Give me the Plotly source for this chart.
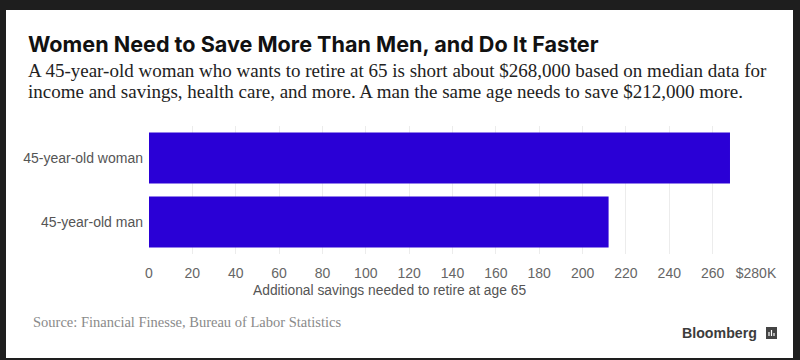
import plotly.graph_objects as go

categories = ["45-year-old man", "45-year-old woman"]
savings_k = [212, 268]
tick_vals = [0, 20, 40, 60, 80, 100, 120, 140, 160, 180, 200, 220, 240, 260, 280]
tick_text = ["0", "20", "40", "60", "80", "100", "120", "140", "160", "180", "200", "220", "240", "260", "$280K"]

title = "Women Need to Save More Than Men, and Do It Faster"
sub1 = "A 45-year-old woman who wants to retire at 65 is short about $268,000 based on median data for"
sub2 = "income and savings, health care, and more. A man the same age needs to save $212,000 more."
xtitle = "Additional savings needed to retire at age 65"
source = "Source: Financial Finesse, Bureau of Labor Statistics"

W, H = 800, 360
L, R, T, B = 149, 756, 126, 254


def px(x):
    return (x - L) / (R - L)


def py(y):
    return (B - y) / (B - T)


fig = go.Figure(go.Bar(
    y=categories, x=savings_k, orientation="h",
    marker=dict(color="#2a00d6", line=dict(width=0)),
    hoverinfo="skip",
))

shapes = [
    dict(type="rect", xref="paper", yref="paper", x0=px(6), x1=px(793), y0=py(358), y1=py(10),
         fillcolor="white", line=dict(width=0), layer="below"),
    dict(type="rect", xref="paper", yref="paper", x0=px(766), x1=px(777), y0=py(339), y1=py(327),
         fillcolor="#444444", line=dict(width=0), layer="above"),
]
for bx, top in [(769, 332), (771.5, 330), (774, 333)]:
    shapes.append(dict(type="line", xref="paper", yref="paper", x0=px(bx), x1=px(bx), y0=py(336), y1=py(top),
                       line=dict(color="white", width=1.2)))

ann = [
    dict(text="<b>" + title + "</b>", x=px(26), y=py(44), xanchor="left", yanchor="middle",
         font=dict(family="Inter", size=21.6, color="#111111")),
    dict(text=sub1, x=px(26), y=py(70), xanchor="left", yanchor="middle",
         font=dict(family="Liberation Serif", size=19, color="#222222")),
    dict(text=sub2, x=px(26), y=py(91), xanchor="left", yanchor="middle",
         font=dict(family="Liberation Serif", size=19, color="#222222")),
    dict(text=xtitle, x=px(251), y=py(290), xanchor="left", yanchor="middle",
         font=dict(family="Liberation Sans", size=13.8, color="#555555")),
    dict(text=source, x=px(31), y=py(322), xanchor="left", yanchor="middle",
         font=dict(family="Liberation Serif", size=14.5, color="#8a8a8a")),
    dict(text="<b>Bloomberg</b>", x=px(759), y=py(333), xanchor="right", yanchor="middle",
         font=dict(family="Liberation Sans", size=14.2, color="#3c3c3c")),
]
for a in ann:
    a.update(xref="paper", yref="paper", showarrow=False)

fig.update_layout(
    width=W, height=H,
    margin=dict(l=L, r=W - R, t=T, b=H - B),
    paper_bgcolor="#1e1e1e", plot_bgcolor="white",
    bargap=0.2, showlegend=False,
    shapes=shapes, annotations=ann,
    xaxis=dict(range=[0, 280], tickvals=tick_vals, ticktext=tick_text, showgrid=True,
               gridcolor="#ececec", gridwidth=1, zeroline=False, showline=False, ticks="",
               ticklabelstandoff=9, tickfont=dict(family="Liberation Sans", size=14, color="#666666"),
               fixedrange=True),
    yaxis=dict(showgrid=False, zeroline=False, showline=False, ticks="", ticklabelstandoff=5,
               tickfont=dict(family="Liberation Sans", size=14, color="#555555"), fixedrange=True),
)

fig.write_html("out.html", config={"displayModeBar": False},
               post_script="document.body.style.margin='0';document.body.style.background='#1e1e1e';")
